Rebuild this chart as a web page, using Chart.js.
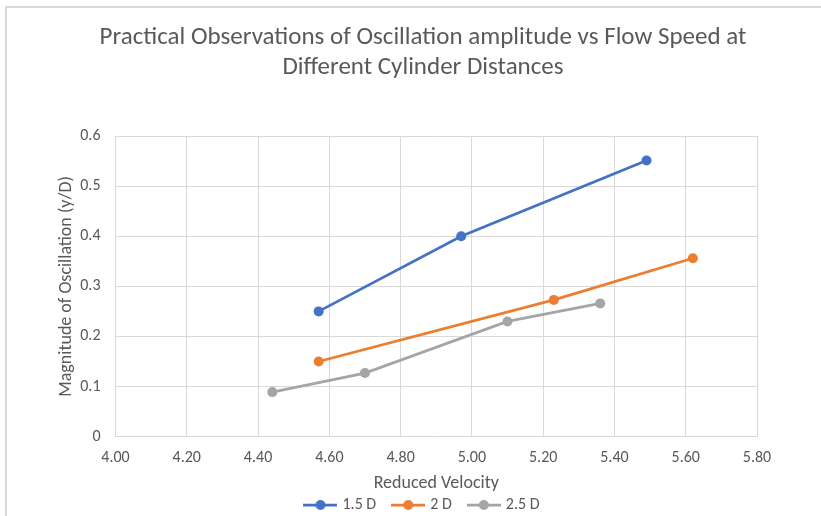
<!DOCTYPE html>
<html>
<head>
<meta charset="utf-8">
<script src="https://cdn.jsdelivr.net/npm/chart.js@4"></script>
<style>
  html, body { margin: 0; padding: 0; background: #fff; }
  #wrap { position: relative; width: 821px; height: 516px; overflow: hidden; }
  #frame { position: absolute; left: 5px; top: 6px; right: -2px; bottom: -2px; border: 2px solid #d9d9d9; }
  #chart { position: absolute; left: 0; top: 0; }
</style>
</head>
<body>
<div id="wrap">
  <div id="frame"></div>
  <canvas id="chart" width="821" height="516"></canvas>
</div>
<script>
var FONT = "Carlito, Calibri, Lato, sans-serif";
var TEXTCOLOR = "#595959";
var GRIDCOLOR = "#d9d9d9";

var titleLines = ["Practical Observations of Oscillation amplitude vs Flow Speed at", "Different Cylinder Distances"];
var xTitle = "Reduced Velocity";
var yTitle = "Magnitude of Oscillation (y/D)";

var seriesNames = ["1.5 D", "2 D", "2.5 D"];
var seriesColors = ["#4472C4", "#ED7D31", "#A5A5A5"];

var x15 = [4.57, 4.97, 5.49];
var y15 = [0.25, 0.40, 0.551];
var x2 = [4.57, 5.23, 5.62];
var y2 = [0.15, 0.273, 0.356];
var x25 = [4.44, 4.70, 5.10, 5.36];
var y25 = [0.089, 0.127, 0.23, 0.266];

var xMin = 4.0, xMax = 5.8, xStep = 0.2;
var yMin = 0, yMax = 0.6, yStep = 0.1;

function toPoints(xs, ys) {
    var pts = [];
    for (var i = 0; i < xs.length; i++) pts.push({ x: xs[i], y: ys[i] });
    return pts;
}

// legend marker: short line with a dot, like the spreadsheet legend
function legendMarker(color) {
    var c = document.createElement("canvas");
    c.width = 34; c.height = 12;
    var g = c.getContext("2d");
    g.strokeStyle = color;
    g.lineWidth = 2.75;
    g.beginPath(); g.moveTo(0, 6); g.lineTo(34, 6); g.stroke();
    g.fillStyle = color;
    g.beginPath(); g.arc(17, 6, 5, 0, Math.PI * 2); g.fill();
    return c;
}

// the y scale box is kept narrow so the legend centres like the original;
// widen it after layout so its tick labels are not clipped
var widenYScale = {
    id: "widenYScale",
    afterLayout: function (chart) {
        var y = chart.scales.y;
        y.left = 40;
        y.width = y.right - y.left;
    }
};

var allX = [x15, x2, x25];
var allY = [y15, y2, y25];
var datasets = [];
for (var s = 0; s < seriesNames.length; s++) {
    datasets.push({
        label: seriesNames[s],
        data: toPoints(allX[s], allY[s]),
        showLine: true,
        borderColor: seriesColors[s],
        backgroundColor: seriesColors[s],
        borderWidth: 2.75,
        pointRadius: 5,
        pointBorderWidth: 0,
        pointHoverRadius: 5
    });
}

var config = {
    type: "scatter",
    data: { datasets: datasets },
    plugins: [widenYScale],
    options: {
        responsive: false,
        animation: false,
        layout: { padding: { left: 89, right: 64, top: 0, bottom: -7 } },
        plugins: {
            tooltip: { enabled: false },
            title: {
                display: true,
                text: titleLines,
                color: TEXTCOLOR,
                font: { family: FONT, size: 25, weight: "normal", lineHeight: 1.2 },
                padding: { top: 23, bottom: 53 }
            },
            legend: {
                position: "bottom",
                labels: {
                    color: TEXTCOLOR,
                    font: { family: FONT, size: 16 },
                    usePointStyle: true,
                    pointStyleWidth: 28,
                    padding: 18,
                    generateLabels: function (chart) {
                        var items = Chart.defaults.plugins.legend.labels.generateLabels(chart);
                        items.forEach(function (it, i) { it.pointStyle = legendMarker(seriesColors[i]); });
                        return items;
                    }
                }
            }
        },
        scales: {
            x: {
                type: "linear",
                min: xMin, max: xMax,
                grid: { color: GRIDCOLOR, drawTicks: false },
                border: { color: GRIDCOLOR },
                ticks: {
                    stepSize: xStep,
                    padding: 11.4,
                    color: TEXTCOLOR,
                    font: { family: FONT, size: 16 },
                    maxRotation: 0,
                    callback: function (v) { return Number(v).toFixed(2); }
                },
                title: {
                    display: true, text: xTitle, color: TEXTCOLOR,
                    font: { family: FONT, size: 18 },
                    padding: { top: 0, bottom: -14.8 }
                },
                afterFit: function (scale) { scale.height = 42.3; }
            },
            y: {
                type: "linear",
                min: yMin, max: yMax,
                grid: { color: GRIDCOLOR, drawTicks: false },
                border: { color: GRIDCOLOR },
                ticks: {
                    stepSize: yStep,
                    padding: 15,
                    color: TEXTCOLOR,
                    font: { family: FONT, size: 16 },
                    callback: function (v) { return v === 0 ? "0" : Number(v).toFixed(1); }
                },
                title: {
                    display: true, text: yTitle, color: TEXTCOLOR,
                    font: { family: FONT, size: 18 },
                    padding: { top: 15.7, bottom: 0 }
                },
                afterFit: function (scale) { scale.width = 26.5; }
            }
        }
    }
};

var chart = new Chart(document.getElementById("chart"), config);
</script>
</body>
</html>
